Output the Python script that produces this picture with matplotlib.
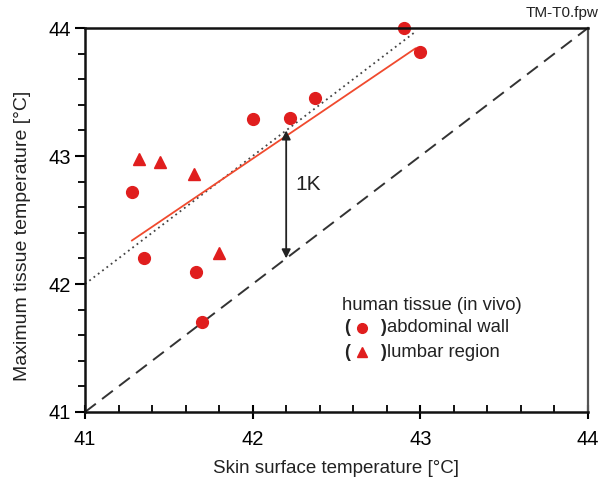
import matplotlib.pyplot as plt
from matplotlib.ticker import MultipleLocator

plt.rcParams['font.family'] = ['Liberation Sans', 'DejaVu Sans']

# Dados: parede abdominal (círculos)
abd_x = [41.28, 41.35, 41.66, 41.70, 42.00, 42.22, 42.37, 42.90, 43.00]
abd_y = [42.72, 42.20, 42.09, 41.70, 43.29, 43.30, 43.45, 44.00, 43.81]

# Dados: região lombar (triângulos)
lum_x = [41.32, 41.45, 41.65, 41.80]
lum_y = [42.98, 42.95, 42.86, 42.24]

# Linha de ajuste (vermelha) e linhas de referência
fit_x = [41.28, 42.97]
fit_y = [42.34, 43.84]
ref1_x = [41.0, 42.97]
ref1_y = [42.0, 43.97]
ident_x = [41.0, 44.0]
ident_y = [41.0, 44.0]

# Seta de 1K
seta_x = 42.2
seta_y = [42.2, 43.2]

vermelho = '#e01e1e'

fig = plt.figure(figsize=(6.03, 4.83), dpi=100)
ax = fig.add_axes([0.141, 0.147, 0.834, 0.795])

ax.plot(ident_x, ident_y, color='#333333', linestyle=(0, (7, 4)), linewidth=1.4)
ax.plot(ref1_x, ref1_y, color='#444444', linestyle=(0, (1, 2)), linewidth=1.3)
ax.plot(fit_x, fit_y, color='#f04a2e', linewidth=1.3)

ax.plot(abd_x, abd_y, 'o', color=vermelho, markersize=8.5, clip_on=False)
ax.plot(lum_x, lum_y, '^', color=vermelho, markersize=8.5, clip_on=False)

ax.annotate('', xy=(seta_x, seta_y[0]), xytext=(seta_x, seta_y[1]),
            arrowprops=dict(arrowstyle='<|-|>', color='#222222', lw=1.3,
                            mutation_scale=13, shrinkA=0, shrinkB=0))
ax.text(42.255, 42.78, '1K', fontsize=15, va='center', ha='left', color='#222222')

# Legenda feita à mão
ax.text(0.510, 0.277, 'human tissue (in vivo)', transform=ax.transAxes, fontsize=13.3,
        va='center', color='#222222')
for yy, mk, nome in [(0.220, 'o', 'abdominal wall'), (0.155, '^', 'lumbar region')]:
    ax.text(0.515, yy, '(', transform=ax.transAxes, fontsize=13, va='center',
            fontweight='bold', color='#222222')
    ax.plot([0.551], [yy], mk, color=vermelho, markersize=7, transform=ax.transAxes)
    ax.text(0.587, yy, ')', transform=ax.transAxes, fontsize=13, va='center',
            fontweight='bold', color='#222222')
    ax.text(0.601, yy, nome, transform=ax.transAxes, fontsize=13.3, va='center',
            color='#222222')

ax.set_xlim(41, 44)
ax.set_ylim(41, 44)
ax.xaxis.set_major_locator(MultipleLocator(1))
ax.yaxis.set_major_locator(MultipleLocator(1))
ax.xaxis.set_minor_locator(MultipleLocator(0.2))
ax.yaxis.set_minor_locator(MultipleLocator(0.2))
ax.tick_params(axis='x', which='major', direction='inout', length=10, width=1.5,
               labelsize=14.5, pad=8)
ax.tick_params(axis='x', which='minor', direction='in', length=5, width=1.3)
ax.tick_params(axis='y', which='major', direction='out', length=7, width=1.5,
               labelsize=14.5, pad=3)
ax.tick_params(axis='y', which='minor', direction='out', length=5, width=1.3)

for lado in ['left', 'bottom', 'top']:
    ax.spines[lado].set_linewidth(1.8)
    ax.spines[lado].set_color('#111111')
ax.spines['right'].set_linewidth(1.6)
ax.spines['right'].set_color('#555555')

ax.set_xlabel('Skin surface temperature [°C]', fontsize=13.5, labelpad=8, color='#222222')
ax.set_ylabel('Maximum tissue temperature [°C]', fontsize=14, color='#222222')
ax.yaxis.set_label_coords(-0.108, 0.458)

fig.text(0.992, 0.958, 'TM-T0.fpw', ha='right', va='bottom', fontsize=11, color='#222222')

fig.savefig('out.png', dpi=100)
